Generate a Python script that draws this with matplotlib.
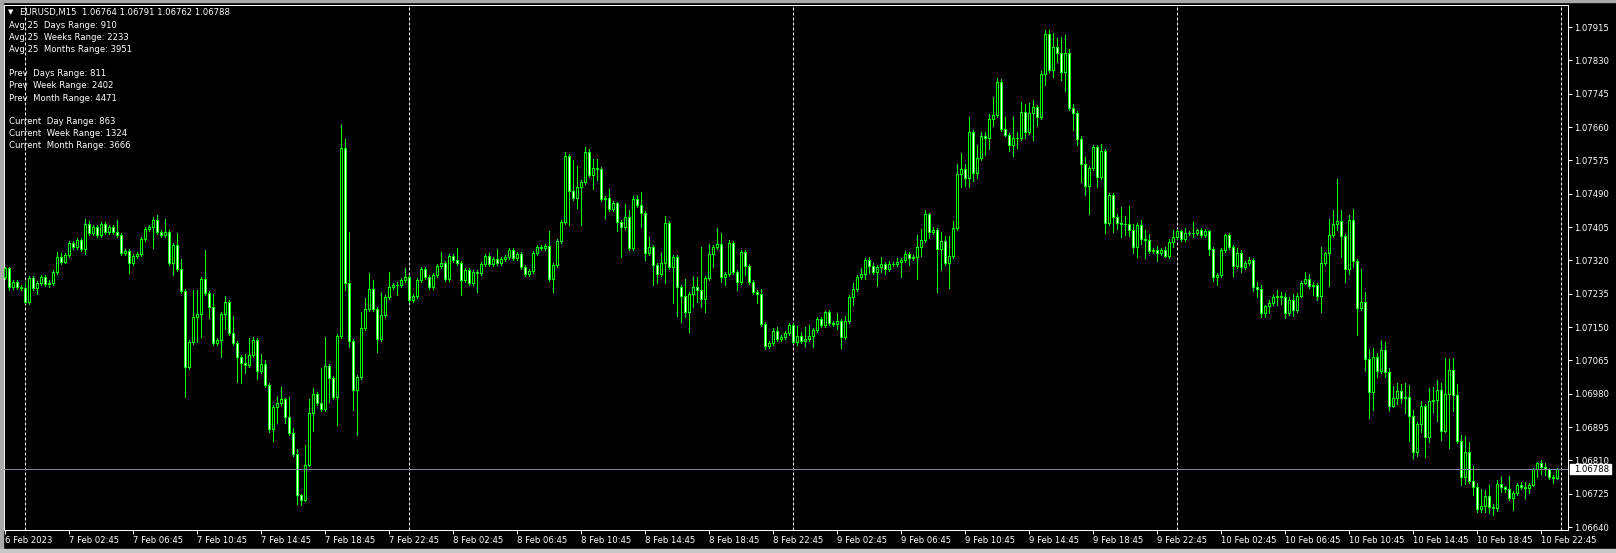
import numpy as np
import pandas as pd
import matplotlib
matplotlib.use("Agg")
import matplotlib.pyplot as plt
from matplotlib.patches import Rectangle

# EURUSD M15, closes in points (1 point = 0.00001)
close_pts = [
    107300, 107252, 107265, 107252, 107249, 107214, 107275, 107249, 107262, 107278, 107260, 107261, 107290, 107328, 107316, 107334, 107364, 107354, 107372, 107349,
    107413, 107390, 107405, 107385, 107413, 107392, 107405, 107392, 107385, 107339, 107344, 107313, 107331, 107336, 107374, 107400, 107405, 107423, 107392, 107385,
    107392, 107313, 107359, 107298, 107242, 107048, 107112, 107176, 107183, 107272, 107237, 107201, 107109, 107117, 107183, 107214, 107135, 107109, 107074, 107058,
    107053, 107079, 107117, 107038, 107056, 107002, 106890, 106946, 106956, 106966, 106921, 106880, 106826, 106722, 106709, 106798, 106931, 106979, 106956, 106941,
    107051, 107020, 106972, 107127, 107606, 107262, 107114, 106989, 107023, 107147, 107196, 107247, 107196, 107119, 107181, 107227, 107252, 107257, 107256, 107270,
    107278, 107219, 107229, 107270, 107298, 107278, 107252, 107283, 107306, 107313, 107272, 107331, 107321, 107313, 107270, 107295, 107262, 107290, 107288, 107311,
    107331, 107311, 107323, 107313, 107323, 107328, 107346, 107326, 107336, 107303, 107285, 107293, 107339, 107354, 107351, 107357, 107272, 107308, 107369, 107418,
    107586, 107497, 107479, 107507, 107520, 107596, 107538, 107555, 107553, 107476, 107479, 107451, 107466, 107418, 107405, 107431, 107351, 107476, 107461, 107441,
    107339, 107354, 107308, 107285, 107313, 107415, 107303, 107328, 107252, 107229, 107188, 107234, 107252, 107244, 107221, 107275, 107336, 107354, 107362, 107278,
    107285, 107364, 107290, 107265, 107341, 107306, 107265, 107239, 107234, 107158, 107102, 107109, 107140, 107119, 107125, 107135, 107155, 107112, 107127, 107114,
    107119, 107127, 107142, 107170, 107155, 107188, 107160, 107158, 107165, 107125, 107165, 107227, 107247, 107278, 107285, 107321, 107306, 107290, 107303, 107311,
    107298, 107311, 107310, 107316, 107321, 107336, 107326, 107328, 107354, 107372, 107438, 107392, 107397, 107349, 107369, 107313, 107331, 107402, 107540, 107553,
    107530, 107647, 107543, 107581, 107637, 107632, 107680, 107691, 107775, 107655, 107640, 107614, 107632, 107631, 107698, 107647, 107696, 107711, 107686, 107795,
    107897, 107805, 107864, 107849, 107800, 107849, 107708, 107696, 107629, 107566, 107510, 107555, 107609, 107532, 107599, 107415, 107487, 107431, 107415, 107413,
    107412, 107397, 107354, 107410, 107374, 107373, 107344, 107346, 107339, 107346, 107331, 107367, 107380, 107395, 107374, 107390, 107389, 107390, 107397, 107385,
    107395, 107349, 107278, 107283, 107346, 107385, 107354, 107306, 107339, 107303, 107313, 107321, 107252, 107247, 107186, 107204, 107211, 107227, 107229, 107227,
    107186, 107219, 107193, 107229, 107262, 107272, 107255, 107257, 107229, 107313, 107339, 107385, 107413, 107420, 107382, 107298, 107423, 107318, 107198, 107214,
    107068, 106984, 107074, 107038, 107091, 107035, 106949, 106969, 106987, 106969, 106972, 106923, 106831, 106903, 106949, 106870, 106961, 106964, 106989, 106885,
    106979, 107040, 106977, 106859, 106768, 106831, 106757, 106742, 106686, 106694, 106719, 106691, 106688, 106750, 106742, 106737, 106714, 106727, 106747, 106742,
    106739, 106747, 106788, 106803, 106793, 106788, 106768, 106764, 106788,
]
first_open_pts = 107278

# wick lengths above / below the body, points
upper_wick = [
    3, 3, 5, 5, 5, 15, 5, 5, 5, 5, 5, 10, 5, 12, 10, 5, 5, 5, 5, 5,
    13, 8, 5, 5, 5, 5, 5, 5, 30, 5, 5, 5, 5, 5, 5, 5, 5, 8, 13, 5,
    33, 5, 5, 30, 25, 5, 5, 69, 61, 5, 74, 5, 33, 5, 5, 15, 5, 43, 5, 5,
    23, 43, 8, 5, 25, 10, 5, 5, 15, 31, 3, 51, 13, 13, 3, 51, 36, 15, 5, 89,
    74, 5, 5, 5, 59, 23, 130, 5, 5, 41, 28, 41, 23, 5, 56, 5, 38, 5, 8, 5,
    23, 5, 5, 5, 5, 5, 5, 5, 5, 28, 5, 5, 5, 31, 5, 5, 5, 5, 5, 5,
    5, 8, 5, 25, 5, 5, 5, 5, 5, 5, 5, 5, 5, 5, 5, 5, 38, 5, 5, 5,
    10, 5, 79, 54, 5, 13, 8, 23, 23, 5, 5, 23, 5, 3, 5, 33, 18, 8, 10, 33,
    5, 25, 5, 5, 25, 18, 5, 5, 5, 5, 43, 5, 25, 25, 110, 5, 25, 5, 41, 28,
    5, 8, 5, 5, 5, 5, 5, 5, 5, 13, 5, 5, 8, 10, 5, 5, 5, 5, 25, 10,
    31, 28, 5, 5, 5, 3, 5, 5, 20, 5, 13, 5, 15, 5, 15, 5, 8, 8, 5, 18,
    5, 8, 5, 10, 5, 8, 5, 5, 31, 28, 10, 3, 8, 5, 23, 13, 51, 18, 25, 41,
    13, 38, 5, 33, 10, 10, 13, 46, 10, 8, 31, 5, 54, 15, 25, 20, 25, 18, 5, 8,
    10, 10, 36, 23, 41, 46, 10, 10, 5, 8, 18, 5, 5, 5, 18, 5, 5, 5, 8, 41,
    20, 46, 15, 5, 13, 23, 15, 5, 10, 5, 8, 8, 18, 5, 3, 13, 5, 28, 3, 5,
    5, 3, 5, 5, 5, 3, 5, 5, 13, 8, 5, 8, 5, 13, 10, 3, 8, 5, 15, 10,
    10, 8, 15, 8, 5, 18, 13, 8, 5, 41, 3, 41, 36, 107, 28, 5, 13, 28, 5, 84,
    25, 25, 23, 10, 23, 20, 10, 31, 20, 18, 36, 31, 15, 5, 13, 5, 33, 33, 25, 18,
    92, 28, 31, 28, 15, 41, 25, 38, 10, 43, 15, 28, 8, 10, 18, 3, 33, 5, 5, 8,
    13, 5, 3, 3, 8, 10, 3, 5, 3,
]
lower_wick = [
    5, 8, 5, 5, 5, 3, 5, 5, 15, 5, 5, 8, 5, 5, 5, 3, 5, 5, 5, 5,
    13, 5, 5, 5, 5, 5, 5, 5, 5, 5, 5, 25, 5, 5, 5, 5, 5, 53, 5, 5,
    5, 5, 30, 5, 5, 76, 5, 5, 64, 59, 5, 28, 5, 5, 43, 38, 5, 5, 64, 51,
    20, 5, 5, 20, 5, 5, 8, 31, 41, 5, 15, 5, 5, 23, 13, 3, 3, 46, 5, 5,
    5, 61, 5, 71, 5, 18, 15, 51, 115, 5, 5, 5, 5, 33, 5, 5, 5, 5, 25, 5,
    5, 5, 5, 5, 5, 5, 5, 5, 5, 5, 5, 5, 5, 5, 38, 5, 5, 5, 48, 5,
    5, 5, 5, 5, 5, 5, 5, 5, 5, 5, 5, 5, 5, 5, 5, 5, 5, 33, 5, 5,
    5, 87, 5, 25, 97, 5, 5, 36, 28, 5, 48, 5, 5, 23, 76, 5, 5, 5, 5, 36,
    18, 5, 51, 23, 5, 51, 5, 92, 74, 66, 13, 51, 33, 31, 20, 33, 5, 33, 5, 13,
    20, 5, 5, 20, 5, 23, 5, 5, 23, 5, 8, 5, 5, 5, 5, 5, 5, 3, 8, 5,
    13, 5, 28, 5, 5, 5, 5, 5, 13, 28, 5, 5, 20, 5, 5, 13, 18, 5, 36, 13,
    13, 5, 5, 5, 38, 5, 18, 5, 56, 23, 5, 15, 5, 110, 54, 5, 64, 5, 5, 33,
    20, 23, 20, 13, 5, 43, 28, 18, 5, 5, 3, 15, 28, 25, 5, 15, 5, 69, 23, 5,
    28, 5, 18, 23, 20, 48, 5, 43, 15, 46, 23, 71, 5, 25, 5, 25, 5, 38, 15, 33,
    28, 15, 15, 25, 13, 46, 5, 5, 20, 5, 3, 5, 13, 5, 5, 5, 5, 10, 5, 5,
    5, 15, 10, 20, 5, 5, 5, 25, 5, 13, 5, 5, 10, 20, 10, 10, 18, 5, 20, 18,
    13, 5, 15, 5, 3, 3, 5, 23, 10, 41, 5, 84, 5, 15, 54, 33, 13, 15, 69, 5,
    28, 66, 46, 15, 5, 13, 10, 3, 15, 13, 38, 64, 15, 10, 20, 51, 13, 28, 54, 23,
    3, 138, 41, 5, 20, 18, 5, 20, 8, 8, 15, 15, 18, 8, 13, 8, 5, 31, 5, 5,
    25, 13, 3, 20, 18, 15, 5, 13, 2,
]

price_ticks = [1.06640, 1.06725, 1.06810, 1.06895, 1.06980, 1.07065, 1.07150, 1.07235,
               1.07320, 1.07405, 1.07490, 1.07575, 1.07660, 1.07745, 1.07830, 1.07915]
bid = 1.06788
header = "EURUSD,M15  1.06764 1.06791 1.06762 1.06788"
info_lines = [
    "Avg 25  Days Range: 910",
    "Avg 25  Weeks Range: 2233",
    "Avg 25  Months Range: 3951",
    "",
    "Prev  Days Range: 811",
    "Prev  Week Range: 2402",
    "Prev  Month Range: 4471",
    "",
    "Current  Day Range: 863",
    "Current  Week Range: 1324",
    "Current  Month Range: 3666",
]

closes = np.array(close_pts) / 1e5
opens = np.concatenate([[first_open_pts / 1e5], closes[:-1]])
highs = np.maximum(opens, closes) + np.array(upper_wick) / 1e5
lows = np.minimum(opens, closes) - np.array(lower_wick) / 1e5
n = len(closes)
idx = np.arange(n)
times = pd.date_range("2023-02-06 22:45", periods=n + 1, freq="15min")

W, H = 1616, 553
GREEN = "#00ff00"
FS = 6.1
PX = 0.72  # one pixel in points
fig = plt.figure(figsize=(W / 100, H / 100), dpi=100, facecolor="black")

def fx(x):
    return x / W

def fy(y):
    return 1 - y / H

# window edges
fig.patches.append(Rectangle((0, 0), fx(3), 1, transform=fig.transFigure, color="#a9a9a9"))
fig.patches.append(Rectangle((0, fy(2)), 1, 2 / H, transform=fig.transFigure, color="#a9a9a9"))
fig.patches.append(Rectangle((0, 0), 1, 4 / H, transform=fig.transFigure, color="#c8c8c8"))

ax = fig.add_axes([fx(4), fy(530), (1568 - 4) / W, (530 - 5) / H])
ax.set_facecolor("black")
ax.set_xlim(-0.25, 390.75)
ax.set_ylim(1.066324, 1.079711)
for sp in ax.spines.values():
    sp.set_color("white")
    sp.set_linewidth(PX)

# period separators at midnight
for i in range(n + 1):
    if times[i].hour == 0 and times[i].minute == 0:
        ax.axvline(i, color="white", lw=PX, linestyle=(0, (3, 2)), zorder=1)

# candles: green outline, black body when up, white body when down
ax.vlines(idx, lows, highs, color=GREEN, lw=PX, antialiased=False, zorder=2)
for i in range(n):
    o, c = opens[i], closes[i]
    fc = "black" if c > o else "white"
    ax.add_patch(Rectangle((i - 0.25, min(o, c)), 0.5, abs(c - o), facecolor=fc,
                           edgecolor=GREEN, lw=PX, antialiased=False, zorder=3))

ax.axhline(bid, color="#778899", lw=PX, zorder=4)

# price scale on the right
ax.yaxis.tick_right()
ax.set_yticks(price_ticks)
ax.set_yticklabels([f"{p:.5f}" for p in price_ticks])
ax.tick_params(axis="y", colors="white", length=3, width=PX, pad=1.5, labelsize=FS)

# time scale
tick_pos, tick_lab = [0], ["6 Feb 2023"]
for i in range(1, n):
    t = times[i]
    if t.minute == 45 and t.hour % 4 == 2:
        tick_pos.append(i)
        tick_lab.append(f"{t.day} {t.strftime('%b %H:%M')}")
ax.set_xticks(tick_pos)
ax.set_xticklabels(tick_lab)
ax.tick_params(axis="x", colors="white", length=3, width=PX, pad=1.5, labelsize=FS)
for lbl in ax.get_xticklabels():
    lbl.set_ha("left")

# bid label
fig.patches.append(Rectangle((fx(1570), fy(474)), 41 / W, 10 / H, transform=fig.transFigure,
                             color="white", zorder=5))
fig.text(fx(1574), fy(469), f"{bid:.5f}", color="black", fontsize=FS, va="center", ha="left", zorder=6)

# header and indicator text
fig.text(fx(8), fy(12), "\u25bc", color="white", fontsize=5, va="center", ha="left")
fig.text(fx(20), fy(12), header, color="white", fontsize=FS, va="center", ha="left")
for k, line in enumerate(info_lines):
    if line:
        fig.text(fx(9), fy(26 + 12 * k), line, color="white", fontsize=FS, va="center", ha="left")

fig.savefig("out.png", dpi=100, facecolor="black")
